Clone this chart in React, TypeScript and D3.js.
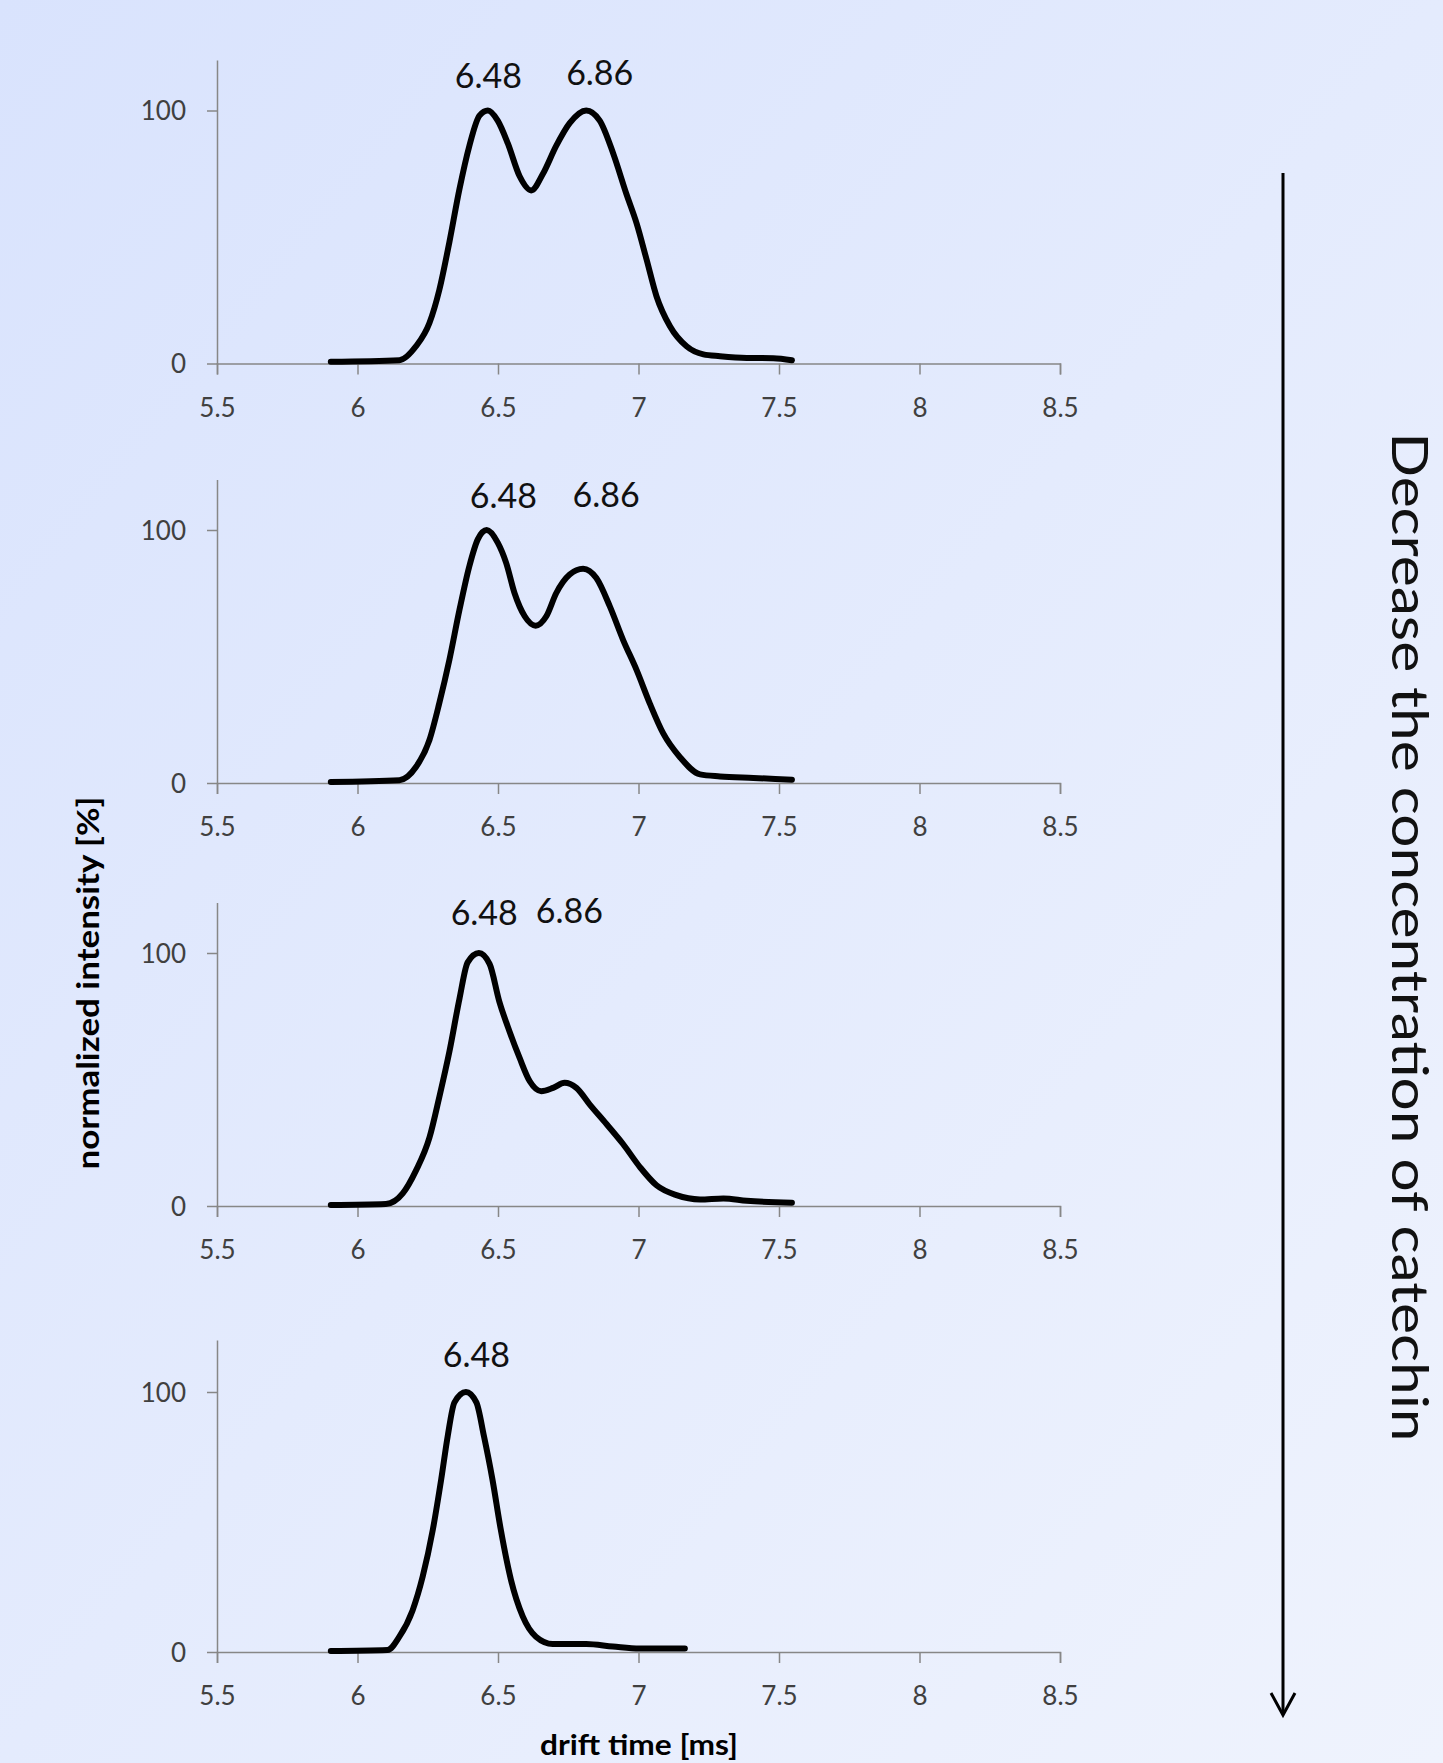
import React, { useRef, useEffect } from 'react'
import * as d3 from 'd3'

// x / y ticks shared by all four panels
const xTicks = [5.5, 6, 6.5, 7, 7.5, 8, 8.5]
const yTicks = [0, 100]

// panel 1 (highest catechin)
const time1 = [5.905, 6.149, 6.208, 6.256, 6.291, 6.327, 6.363, 6.398, 6.434, 6.464, 6.499, 6.535, 6.577, 6.618, 6.66, 6.707, 6.755, 6.814, 6.862, 6.91, 6.957, 6.993, 7.029, 7.064, 7.112, 7.171, 7.231, 7.29, 7.385, 7.48, 7.546]
const int1 = [0.7, 1.3, 6.8, 16, 29, 48, 69, 86, 98, 100, 96, 87, 74, 68.4, 75, 86, 95, 100, 96, 83, 67, 55.5, 41, 26.6, 14.7, 6.8, 3.6, 2.9, 2.2, 2.1, 1.3]

// panel 2
const time2 = [5.905, 6.149, 6.208, 6.256, 6.291, 6.327, 6.363, 6.398, 6.428, 6.46, 6.499, 6.529, 6.559, 6.595, 6.634, 6.672, 6.707, 6.755, 6.803, 6.85, 6.898, 6.945, 6.993, 7.04, 7.088, 7.147, 7.219, 7.29, 7.409, 7.546]
const int2 = [0.4, 1.1, 6.3, 17, 31.5, 48.7, 68.5, 85.7, 96.3, 100, 95, 87, 75, 65.9, 62.2, 65.9, 75, 82.4, 84.7, 81, 69.8, 56.6, 44.7, 31.5, 19.6, 10.3, 3.4, 2.6, 2, 1.3]

// panel 3
const time3 = [5.905, 6.101, 6.161, 6.208, 6.256, 6.291, 6.327, 6.363, 6.392, 6.432, 6.47, 6.505, 6.541, 6.577, 6.613, 6.654, 6.696, 6.737, 6.779, 6.826, 6.886, 6.945, 7.005, 7.064, 7.135, 7.219, 7.302, 7.385, 7.546]
const int3 = [0.4, 0.8, 5, 14, 27, 43, 61, 82, 96.3, 100, 95.7, 80.7, 69, 58.5, 49.3, 45.4, 46.7, 48.7, 46.7, 40.2, 32.4, 24.5, 15.4, 8.2, 4.3, 2.6, 3, 2.1, 1.3]

// panel 4 (lowest catechin)
const time4 = [5.905, 6.107, 6.149, 6.196, 6.232, 6.268, 6.298, 6.321, 6.345, 6.386, 6.423, 6.45, 6.48, 6.51, 6.546, 6.588, 6.635, 6.695, 6.814, 6.909, 7.004, 7.165]
const int4 = [0.4, 0.8, 5.9, 16, 29, 47, 66.5, 83, 96, 100, 96, 83, 66.5, 47, 27.8, 13.7, 5.9, 3.1, 3.1, 2.1, 1.3, 1.3]

// peak annotations
const peakText1 = ['6.48', '6.86']
const peakText2 = ['6.48', '6.86']
const peakText3 = ['6.48', '6.86']
const peakText4 = ['6.48']

function App() {
  const ref = useRef(null)
  const W = 1443, H = 1763

  useEffect(() => {
    const svg = d3.select(ref.current)
    svg.selectAll('*').remove()

    const defs = svg.append('defs')
    const grad = defs.append('linearGradient')
      .attr('id', 'bg')
      .attr('x1', 0).attr('y1', 0).attr('x2', 1).attr('y2', 1)
    grad.append('stop').attr('offset', '0%').attr('stop-color', '#d9e3fd')
    grad.append('stop').attr('offset', '100%').attr('stop-color', '#eff3fd')

    svg.append('rect')
      .attr('width', W).attr('height', H)
      .attr('fill', 'url(#bg)')

    const x = d3.scaleLinear().domain([5.5, 8.5]).range([217, 1060])

    // layout of each panel: pixel of 0 and of 100
    const panels = [
      { time: time1, val: int1, labels: peakText1, at: [6.466, 6.862], hy: [108.9, 110.1], y0: 363.5, y100: 110.5 },
      { time: time2, val: int2, labels: peakText2, at: [6.519, 6.885], hy: [108.7, 109.1], y0: 783, y100: 530 },
      { time: time3, val: int3, labels: peakText3, at: [6.451, 6.754], hy: [111, 111.9], y0: 1206, y100: 953 },
      { time: time4, val: int4, labels: peakText4, at: [6.423], hy: [109.6], y0: 1652, y100: 1392 },
    ]

    const axisColor = '#878787'
    const font = 'Lato, "Open Sans", sans-serif'

    panels.forEach(p => {
      const y = d3.scaleLinear()
        .domain([0, 120])
        .range([p.y0, p.y0 - 1.2 * (p.y0 - p.y100)])

      const g = svg.append('g')

      // y axis
      const ya = g.append('g')
        .attr('transform', `translate(${x(5.5)},0)`)
        .call(d3.axisLeft(y).tickValues(yTicks).tickSizeInner(10).tickSizeOuter(0).tickPadding(21))
      ya.select('.domain').attr('stroke', axisColor).attr('stroke-width', 1.5)
      ya.selectAll('line').attr('stroke', axisColor).attr('stroke-width', 1.5)
      ya.selectAll('text')
        .attr('fill', '#404040')
        .attr('font-family', font)
        .attr('font-size', 26)
        .attr('dy', '0.35em')

      // x axis
      const xa = g.append('g')
        .attr('transform', `translate(0,${y(0)})`)
        .call(d3.axisBottom(x).tickValues(xTicks).tickSizeInner(11).tickSizeOuter(11).tickPadding(24).tickFormat(d => String(d)))
      xa.select('.domain').attr('stroke', axisColor).attr('stroke-width', 1.5)
      xa.selectAll('line').attr('stroke', axisColor).attr('stroke-width', 1.5)
      xa.selectAll('text')
        .attr('fill', '#404040')
        .attr('font-family', font)
        .attr('font-size', 26)

      const pts = p.time.map((t, i) => [t, p.val[i]])
      const lineGen = d3.line()
        .x(d => x(d[0]))
        .y(d => y(d[1]))
        .curve(d3.curveMonotoneX)

      g.append('path')
        .datum(pts)
        .attr('d', lineGen)
        .attr('fill', 'none')
        .attr('stroke', '#000')
        .attr('stroke-width', 6)
        .attr('stroke-linejoin', 'round')
        .attr('stroke-linecap', 'round')

      p.labels.forEach((l, i) => {
        g.append('text')
          .attr('x', x(p.at[i]))
          .attr('y', y(p.hy[i]))
          .attr('text-anchor', 'middle')
          .attr('font-family', font)
          .attr('font-size', 34)
          .attr('fill', '#111')
          .text(l)
      })
    })

    // axis titles
    svg.append('text')
      .attr('transform', 'translate(99,983) rotate(-90)')
      .attr('text-anchor', 'middle')
      .attr('font-family', font)
      .attr('font-weight', 'bold')
      .attr('font-size', 30)
      .attr('textLength', 373)
      .attr('lengthAdjust', 'spacingAndGlyphs')
      .attr('fill', '#000')
      .text('normalized intensity [%]')

    svg.append('text')
      .attr('x', 639)
      .attr('y', 1755)
      .attr('text-anchor', 'middle')
      .attr('font-family', font)
      .attr('font-weight', 'bold')
      .attr('font-size', 29)
      .attr('textLength', 198)
      .attr('lengthAdjust', 'spacingAndGlyphs')
      .attr('fill', '#000')
      .text('drift time [ms]')

    // concentration arrow
    svg.append('line')
      .attr('x1', 1283).attr('y1', 173)
      .attr('x2', 1283).attr('y2', 1713)
      .attr('stroke', '#000')
      .attr('stroke-width', 3)
    svg.append('path')
      .attr('d', 'M1271,1693 L1283,1715 L1295,1693')
      .attr('fill', 'none')
      .attr('stroke', '#000')
      .attr('stroke-width', 3)

    svg.append('text')
      .attr('transform', 'translate(1392,937) rotate(90)')
      .attr('text-anchor', 'middle')
      .attr('font-family', font)
      .attr('font-size', 50)
      .attr('textLength', 1009)
      .attr('lengthAdjust', 'spacingAndGlyphs')
      .attr('fill', '#111')
      .text('Decrease the concentration of catechin')
  }, [])

  return (
    <svg ref={ref} width={W} height={H} viewBox={`0 0 ${W} ${H}`}
      style={{ position: 'absolute', left: 0, top: 0, display: 'block' }} />
  )
}

export default App
